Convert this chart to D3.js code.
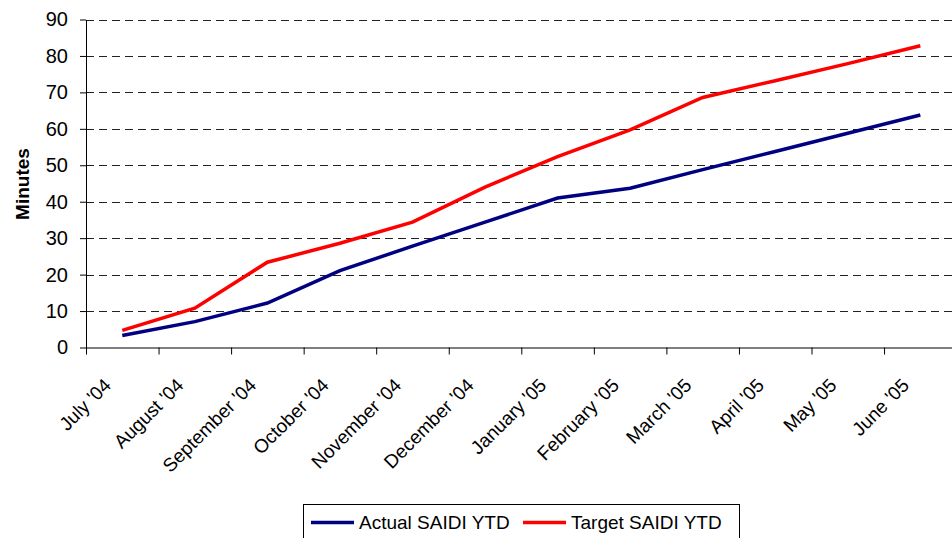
<!DOCTYPE html>
<html>
<head>
<meta charset="utf-8">
<script src="https://cdn.jsdelivr.net/npm/d3@7"></script>
<style>
  body { margin: 0; background: #fff; }
  svg { display: block; font-family: "Liberation Sans", Arial, sans-serif; }
</style>
</head>
<body>
<div id="chart"></div>
<script>
const months = ["July '04", "August '04", "September '04", "October '04", "November '04", "December '04",
                "January '05", "February '05", "March '05", "April '05", "May '05", "June '05"];
const actual = [3.3, 7.1, 12.2, 21.1, 27.8, 34.4, 41.0, 43.7, 48.8, 53.8, 58.8, 63.8];
const target = [4.7, 10.8, 23.4, 28.6, 34.4, 44.0, 52.4, 59.7, 68.6, 73.2, 77.9, 82.8];
const yTicks = [0, 10, 20, 30, 40, 50, 60, 70, 80, 90];
const seriesNames = ["Actual SAIDI YTD", "Target SAIDI YTD"];
const seriesColors = ["#000080", "#ff0000"];

const W = 952, H = 538;
const plotL = 86, plotT = 19.5, plotB = 347.5, plotR = 86 + 12 * 72.55;

const svg = d3.select("#chart")
              .append("svg")
              .attr("width", W)
              .attr("height", H);

const x = d3.scaleBand()
            .domain(months)
            .range([plotL, plotR])
            .padding(0);
const y = d3.scaleLinear()
            .domain([0, 90])
            .range([plotB, plotT]);
// tick marks sit on band edges, so use a linear index scale for them
const xEdge = d3.scaleLinear()
                .domain([0, months.length])
                .range([plotL, plotR]);

// dashed grid
svg.append("g")
   .selectAll("line")
   .data(yTicks.filter(d => d > 0))
   .enter()
   .append("line")
   .attr("x1", plotL)
   .attr("x2", W)
   .attr("y1", d => Math.round(y(d)) + 0.5)
   .attr("y2", d => Math.round(y(d)) + 0.5)
   .attr("stroke", "#222")
   .attr("stroke-width", 1)
   .attr("stroke-dasharray", "8,5");

// y axis
const yAxis = svg.append("g")
                 .attr("transform", `translate(${plotL},0)`)
                 .call(d3.axisLeft(y).tickValues(yTicks).tickSize(6).tickPadding(12).tickSizeOuter(0));
yAxis.selectAll("text")
     .attr("font-size", 20)
     .attr("font-family", "Liberation Sans, Arial, sans-serif")
     .attr("fill", "#000");
yAxis.selectAll("line, path").attr("stroke", "#000");

// x axis (ticks on band edges)
const xAxis = svg.append("g")
                 .attr("transform", `translate(0,${plotB})`)
                 .call(d3.axisBottom(xEdge).tickValues(d3.range(months.length + 1)).tickFormat("").tickSize(7).tickSizeOuter(0));
xAxis.select("path").attr("d", `M${plotL},0.5H${W}`);
xAxis.selectAll("line, path").attr("stroke", "#000");

svg.append("g")
   .selectAll("text")
   .data(months)
   .enter()
   .append("text")
   .attr("transform", d => `translate(${x(d) + x.bandwidth() / 2 - 10},${plotB + 39}) rotate(-45)`)
   .attr("text-anchor", "end")
   .attr("font-size", 19)
   .attr("fill", "#000")
   .text(d => d);

// y title
svg.append("text")
   .attr("transform", "translate(29,184) rotate(-90)")
   .attr("text-anchor", "middle")
   .attr("font-size", 19)
   .attr("font-weight", "bold")
   .text("Minutes");

// lines
const line = d3.line()
               .x((d, i) => x(months[i]) + x.bandwidth() / 2)
               .y(d => y(d));
[actual, target].forEach((s, k) => {
    svg.append("path")
       .datum(s)
       .attr("fill", "none")
       .attr("stroke", seriesColors[k])
       .attr("stroke-width", 3.5)
       .attr("d", line);
});

// legend
const lg = svg.append("g");
lg.append("rect")
  .attr("x", 303.5)
  .attr("y", 504.5)
  .attr("width", 436)
  .attr("height", 50)
  .attr("fill", "#fff")
  .attr("stroke", "#000");
const lgX = [311, 523];
seriesNames.forEach((n, k) => {
    lg.append("line")
      .attr("x1", lgX[k])
      .attr("x2", lgX[k] + 43)
      .attr("y1", 522.5)
      .attr("y2", 522.5)
      .attr("stroke", seriesColors[k])
      .attr("stroke-width", 3.5);
    lg.append("text")
      .attr("x", lgX[k] + 48)
      .attr("y", 528.5)
      .attr("font-size", 19)
      .attr("fill", "#000")
      .text(n);
});
</script>
</body>
</html>
